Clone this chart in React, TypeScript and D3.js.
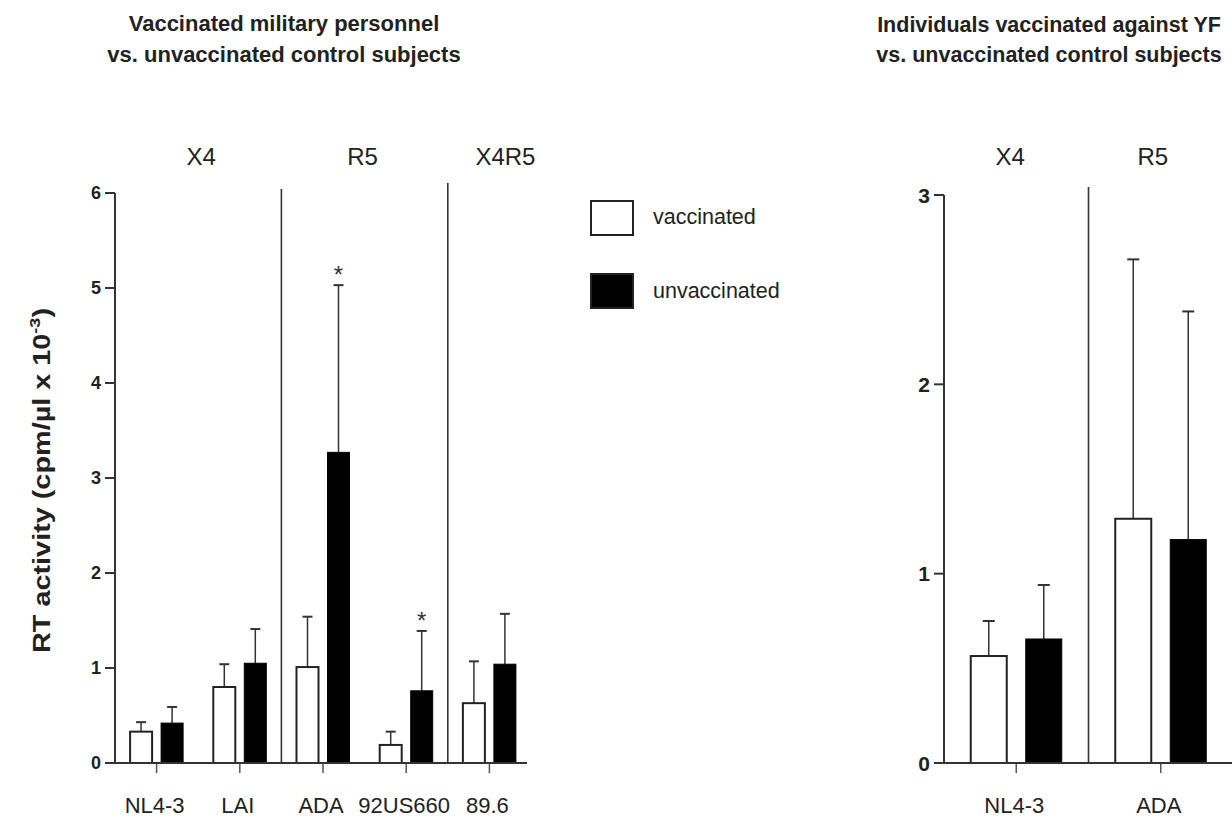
import React from "react";
import * as d3 from "d3";

// ---------- data ----------
const leftTitle = ["Vaccinated military personnel", "vs. unvaccinated control subjects"];
const rightTitle = ["Individuals vaccinated against YF", "vs. unvaccinated control subjects"];

const leftCategories = ["NL4-3", "LAI", "ADA", "92US660", "89.6"];
const leftVaccinated = [0.33, 0.8, 1.01, 0.19, 0.63];
const leftVaccinatedErr = [0.43, 1.04, 1.54, 0.33, 1.07];
const leftUnvaccinated = [0.42, 1.05, 3.27, 0.76, 1.04];
const leftUnvaccinatedErr = [0.59, 1.41, 5.03, 1.39, 1.57];
const leftSignificant = [false, false, true, true, false];
const leftGroups = [
  { label: "X4", first: 0, last: 1 },
  { label: "R5", first: 2, last: 3 },
  { label: "X4R5", first: 4, last: 4 },
];
const leftTicks = [0, 1, 2, 3, 4, 5, 6];

const rightCategories = ["NL4-3", "ADA"];
const rightVaccinated = [0.565, 1.29];
const rightVaccinatedErr = [0.75, 2.66];
const rightUnvaccinated = [0.655, 1.18];
const rightUnvaccinatedErr = [0.94, 2.385];
const rightGroups = [
  { label: "X4", first: 0, last: 0 },
  { label: "R5", first: 1, last: 1 },
];
const rightTicks = [0, 1, 2, 3];

const legendLabels = ["vaccinated", "unvaccinated"];

// ---------- style ----------
const FONT = "'Liberation Sans', Arial, Helvetica, sans-serif";
const AX = "#333";

type PanelProps = {
  categories: string[];
  vac: number[];
  vacErr: number[];
  unv: number[];
  unvErr: number[];
  sig?: boolean[];
  groups: { label: string; first: number; last: number }[];
  ticks: number[];
  yMax: number;
  x0: number;
  x1: number;
  bandEnd: number;
  yTop: number;
  yBottom: number;
  barW: number;
  barOff: number;
  capW: number;
  tickFont: number;
  dividerTops: number[];
  groupNudge: number[];
};

function Panel(p: PanelProps) {
  const y = d3.scaleLinear().domain([0, p.yMax]).range([p.yBottom, p.yTop]);
  const x = d3.scaleBand<string>().domain(p.categories).range([p.x0, p.bandEnd]).paddingInner(0).paddingOuter(0);
  const bw = x.bandwidth();
  const c = (i: number) => (x(p.categories[i]) as number) + bw / 2;
  const dividerXs = p.groups.slice(1).map((g) => x(p.categories[g.first]) as number);
  return (
    <g>
      {dividerXs.map((dx, i) => (
        <line key={"dv" + i} x1={dx} x2={dx} y1={p.dividerTops[i]} y2={p.yBottom} stroke={AX} strokeWidth={1.6} />
      ))}
      {p.groups.map((g, i) => (
        <text key={"gl" + i} x={(c(g.first) + c(g.last)) / 2 + p.groupNudge[i]} y={165} textAnchor="middle"
          fontFamily={FONT} fontSize={24} fill="#222">{g.label}</text>
      ))}
      {p.categories.map((cat, i) => {
        const cx = c(i);
        const wx = cx - p.barOff;
        const bx = cx + p.barOff;
        return (
          <g key={cat}>
            <line x1={wx} x2={wx} y1={y(p.vac[i])} y2={y(p.vacErr[i])} stroke={AX} strokeWidth={1.5} />
            <line x1={wx - p.capW / 2} x2={wx + p.capW / 2} y1={y(p.vacErr[i])} y2={y(p.vacErr[i])} stroke={AX} strokeWidth={2} />
            <line x1={bx} x2={bx} y1={y(p.unv[i])} y2={y(p.unvErr[i])} stroke={AX} strokeWidth={1.5} />
            <line x1={bx - p.capW / 2} x2={bx + p.capW / 2} y1={y(p.unvErr[i])} y2={y(p.unvErr[i])} stroke={AX} strokeWidth={2} />
            <rect x={wx - p.barW / 2} y={y(p.vac[i])} width={p.barW} height={y(0) - y(p.vac[i])}
              fill="#fff" stroke="#222" strokeWidth={2} />
            <rect x={bx - p.barW / 2} y={y(p.unv[i])} width={p.barW} height={y(0) - y(p.unv[i])}
              fill="#000" stroke="#000" strokeWidth={1} />
            {p.sig && p.sig[i] ? (
              <text x={bx} y={y(p.unvErr[i]) - 2} textAnchor="middle" fontFamily={FONT} fontSize={24} fill="#333">*</text>
            ) : null}
            <line x1={cx} x2={cx} y1={p.yBottom} y2={p.yBottom + 10} stroke="#555" strokeWidth={1.5} />
            <text x={cx - 2} y={813} textAnchor="middle" fontFamily={FONT} fontSize={22} fill="#222">{cat}</text>
          </g>
        );
      })}
      <line x1={p.x0} x2={p.x0} y1={y(p.yMax)} y2={y(0)} stroke={AX} strokeWidth={2} />
      {p.ticks.map((t) => (
        <g key={"t" + t}>
          <line x1={p.x0 - 10} x2={p.x0} y1={y(t)} y2={y(t)} stroke={AX} strokeWidth={2} />
          <text x={p.x0 - 14} y={y(t)} dy="0.36em" textAnchor="end" fontFamily={FONT} fontWeight="bold"
            fontSize={p.tickFont} fill="#222">{t}</text>
        </g>
      ))}
      <line x1={p.x0 - 10} x2={p.x1} y1={y(0)} y2={y(0)} stroke={AX} strokeWidth={2.2} />
    </g>
  );
}

export default function App() {
  return (
    <svg width={1232} height={819} style={{ position: "absolute", left: 0, top: 0, background: "#fff" }}>
      <rect x={0} y={0} width={1232} height={819} fill="#fff" />
      {leftTitle.map((t, i) => (
        <text key={"lt" + i} x={284} y={31 + i * 31} textAnchor="middle" fontFamily={FONT} fontWeight="bold"
          fontSize={22} fill="#222">{t}</text>
      ))}
      {rightTitle.map((t, i) => (
        <text key={"rt" + i} x={1049} y={32 + i * 30} textAnchor="middle" fontFamily={FONT} fontWeight="bold"
          fontSize={21.5} fill="#222">{t}</text>
      ))}
      <text transform="translate(50,653) rotate(-90)" fontFamily={FONT} fontWeight="bold" fontSize={24} fill="#222"
        textLength={345} lengthAdjust="spacingAndGlyphs">
        RT activity (cpm/µl x 10<tspan dy={-10} fontSize={15}>-3</tspan><tspan dy={10}>)</tspan>
      </text>

      <Panel
        categories={leftCategories}
        vac={leftVaccinated}
        vacErr={leftVaccinatedErr}
        unv={leftUnvaccinated}
        unvErr={leftUnvaccinatedErr}
        sig={leftSignificant}
        groups={leftGroups}
        ticks={leftTicks}
        yMax={6}
        x0={115}
        x1={527}
        bandEnd={531}
        yTop={193}
        yBottom={763}
        barW={22}
        barOff={15.5}
        capW={10}
        tickFont={18}
        dividerTops={[189, 183]}
        groupNudge={[3, -2, 16]}
      />
      <Panel
        categories={rightCategories}
        vac={rightVaccinated}
        vacErr={rightVaccinatedErr}
        unv={rightUnvaccinated}
        unvErr={rightUnvaccinatedErr}
        groups={rightGroups}
        ticks={rightTicks}
        yMax={3}
        x0={944}
        x1={1232}
        bandEnd={1233}
        yTop={195}
        yBottom={763}
        barW={36}
        barOff={27.5}
        capW={12}
        tickFont={21}
        dividerTops={[187]}
        groupNudge={[-6, -8]}
      />

      {legendLabels.map((l, i) => (
        <g key={l}>
          <rect x={591} y={201 + i * 73} width={42} height={34} fill={i === 0 ? "#fff" : "#000"} stroke="#222" strokeWidth={2} />
          <text x={653} y={224 + i * 74} fontFamily={FONT} fontSize={21.5} fill="#222">{l}</text>
        </g>
      ))}
    </svg>
  );
}
